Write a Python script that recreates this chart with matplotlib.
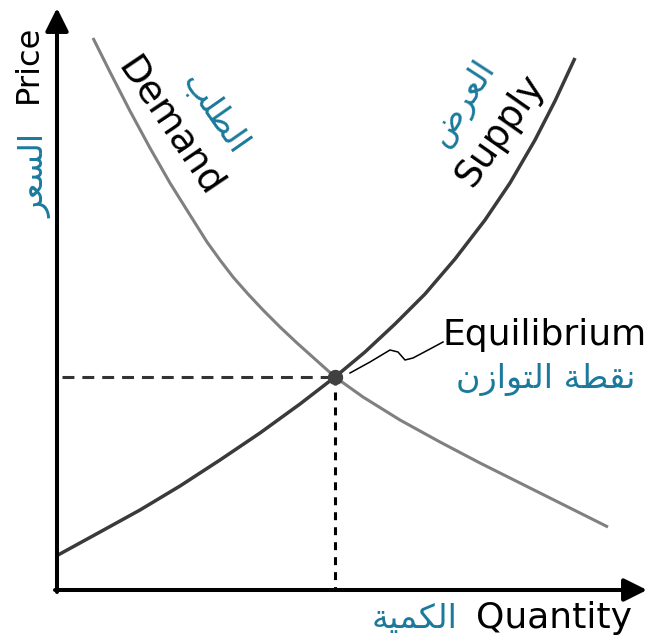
import matplotlib.pyplot as plt

# curve points (quantity, price)
demand_q = [36, 53, 73, 93, 113, 133, 150, 163, 176, 191, 206, 223, 240, 259,
            278, 306, 343, 383, 423, 463, 503, 551]
demand_p = [552, 518, 479, 442, 407, 375, 348, 330, 313, 296, 280, 263, 247,
            230, 213, 193, 170, 148, 127, 107, 87, 63]
supply_q = [1, 43, 83, 123, 163, 203, 243, 278, 308, 338, 368, 398, 428, 453,
            478, 498, 518]
supply_p = [35, 58, 80, 104, 130, 157, 186, 213, 238, 266, 296, 331, 370, 407,
            450, 489, 532]
eq_q, eq_p = 278, 213
leader_q = [293, 313, 333, 341, 348, 356, 373, 386]
leader_p = [217, 228, 240, 238, 230, 232, 241, 248]

# arabic labels, written as presentation forms in visual order
ar_price = "\ufeae\ufecc\ufeb4\ufedf\ufe8d"          # السعر
ar_demand = "\ufe90\ufee0\ufec4\ufedf\ufe8d"         # الطلب
ar_supply = "\ufebd\ufeae\ufecc\ufedf\ufe8d"         # العرض
ar_quantity = "\ufe94\ufef4\ufee4\ufedc\ufedf\ufe8d"  # الكمية
ar_equilibrium = ("\ufee5\ufeaf\ufe8d\ufeee\ufe98\ufedf\ufe8d" + " "
                  + "\ufe94\ufec4\ufed8\ufee7")        # نقطة التوازن

teal = "#1b7a9b"
plt.rcParams["font.family"] = ["DejaVu Sans"]

fig = plt.figure(figsize=(6.49, 6.44), dpi=100)
ax = fig.add_axes([0, 0, 1, 1])
ax.set_xlim(-57, 592)
ax.set_ylim(-54, 590)
ax.axis("off")

# axes with arrow heads
arrow = dict(arrowstyle="-|>,head_length=1.4,head_width=0.7", lw=2.9,
             color="black", mutation_scale=10, shrinkA=0, shrinkB=0)
ax.annotate("", xy=(0, 582), xytext=(0, -2), arrowprops=arrow)
ax.annotate("", xy=(590, 0), xytext=(-2, 0), arrowprops=arrow)

# guide lines to the equilibrium
ax.plot([5, eq_q], [eq_p, eq_p], color="#333333", lw=2.2,
        linestyle=(0, (3.9, 2.6)))
ax.plot([eq_q, eq_q], [eq_p, 0], color="black", lw=2.2,
        linestyle=(0, (2.6, 2.3)))

ax.plot(demand_q, demand_p, color="#808080", lw=2.2, solid_capstyle="butt",
        solid_joinstyle="round")
ax.plot(supply_q, supply_p, color="#3a3a3a", lw=2.5, solid_capstyle="butt",
        solid_joinstyle="round")
ax.plot([eq_q], [eq_p], "o", color="#404040", markersize=10)
ax.plot(leader_q, leader_p, color="black", lw=1.1, solid_joinstyle="round")

ax.text(-29, 526, "Price", rotation=90, fontsize=23, ha="center", va="center",
        rotation_mode="anchor")
ax.text(-21, 414, ar_price, rotation=90, fontsize=24, color=teal,
        ha="center", va="center", rotation_mode="anchor")
ax.text(113, 463, "Demand", rotation=-56, fontsize=27, ha="center",
        va="center", rotation_mode="anchor")
ax.text(159, 477, ar_demand, rotation=-55, fontsize=24, color=teal,
        ha="center", va="center", rotation_mode="anchor")
ax.text(443, 460, "Supply", rotation=55, fontsize=27, ha="center",
        va="center", rotation_mode="anchor")
ax.text(406, 488, ar_supply, rotation=57, fontsize=24, color=teal,
        ha="center", va="center", rotation_mode="anchor")
ax.text(386, 245, "Equilibrium", fontsize=26, ha="left", va="baseline")
ax.text(578, 202, ar_equilibrium, fontsize=24, color=teal, ha="right",
        va="baseline")
ax.text(575, -38, "Quantity", fontsize=26, ha="right", va="baseline")
ax.text(401, -38, ar_quantity, fontsize=24, color=teal, ha="right",
        va="baseline")

plt.savefig("out.png", dpi=100)
